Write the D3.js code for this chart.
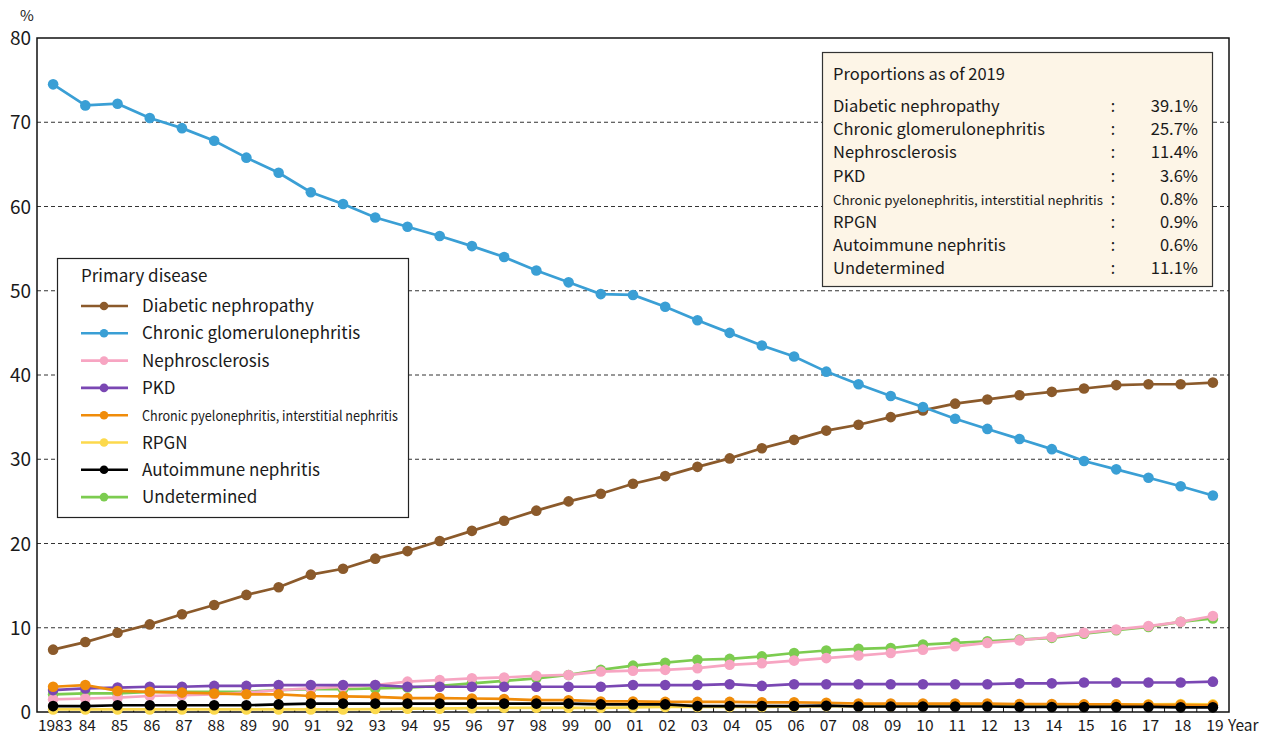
<!DOCTYPE html>
<html><head><meta charset="utf-8">
<script src="https://cdn.jsdelivr.net/npm/d3@7"></script>
<style>
body{margin:0;background:#fff;}
text{font-family:"Noto Sans CJK JP","Noto Sans",sans-serif;fill:#1a1a1a;}
</style></head>
<body><svg id="c" width="1266" height="736"></svg>
<script>
const years = [1983,1984,1985,1986,1987,1988,1989,1990,1991,1992,1993,1994,1995,1996,1997,1998,1999,2000,2001,2002,2003,2004,2005,2006,2007,2008,2009,2010,2011,2012,2013,2014,2015,2016,2017,2018,2019];
const xLabels = ["1983","84","85","86","87","88","89","90","91","92","93","94","95","96","97","98","99","00","01","02","03","04","05","06","07","08","09","10","11","12","13","14","15","16","17","18","19"];
const yTicks = [0,10,20,30,40,50,60,70,80];

const diabetic = [7.4,8.3,9.4,10.4,11.6,12.7,13.9,14.8,16.3,17.0,18.2,19.1,20.3,21.5,22.7,23.9,25.0,25.9,27.1,28.0,29.1,30.1,31.3,32.3,33.4,34.1,35.0,35.8,36.6,37.1,37.6,38.0,38.4,38.8,38.9,38.9,39.1];
const glomerulo = [74.5,72.0,72.2,70.5,69.3,67.8,65.8,64.0,61.7,60.3,58.7,57.6,56.5,55.3,54.0,52.4,51.0,49.6,49.5,48.1,46.5,45.0,43.5,42.2,40.4,38.9,37.5,36.2,34.8,33.6,32.4,31.2,29.8,28.8,27.8,26.8,25.7];
const nephrosclerosis = [1.5,1.6,1.7,1.9,2.0,2.1,2.3,2.6,2.8,3.0,3.2,3.6,3.8,4.0,4.1,4.3,4.4,4.8,4.9,5.0,5.2,5.6,5.8,6.1,6.4,6.7,7.0,7.4,7.8,8.2,8.5,8.9,9.4,9.8,10.2,10.7,11.4];
const pkd = [2.6,2.8,2.9,3.0,3.0,3.1,3.1,3.2,3.2,3.2,3.2,3.0,3.0,3.0,3.0,3.0,3.0,3.0,3.2,3.2,3.2,3.3,3.1,3.3,3.3,3.3,3.3,3.3,3.3,3.3,3.4,3.4,3.5,3.5,3.5,3.5,3.6];
const pyelo = [3.0,3.2,2.5,2.4,2.3,2.2,2.1,2.1,1.9,1.85,1.8,1.65,1.65,1.6,1.55,1.4,1.4,1.25,1.25,1.2,1.2,1.2,1.15,1.15,1.1,1.0,1.0,1.0,1.0,1.0,0.95,0.95,0.9,0.9,0.85,0.85,0.8];
const rpgn = [0.3,0.3,0.3,0.3,0.3,0.3,0.3,0.3,0.3,0.3,0.35,0.4,0.4,0.45,0.5,0.5,0.5,0.5,0.55,0.6,0.6,0.6,0.6,0.65,0.7,0.7,0.7,0.75,0.8,0.8,0.8,0.8,0.85,0.9,0.9,0.95,0.9];
const autoimmune = [0.7,0.7,0.8,0.8,0.8,0.8,0.8,0.9,1.0,1.0,1.0,1.0,1.0,1.0,1.0,1.0,1.0,0.9,0.9,0.9,0.7,0.7,0.7,0.7,0.75,0.65,0.65,0.65,0.65,0.65,0.6,0.6,0.6,0.6,0.6,0.55,0.55];
const undetermined = [2.1,2.2,2.2,2.4,2.4,2.4,2.4,2.6,2.7,2.7,2.8,2.9,3.1,3.4,3.7,4.0,4.4,5.0,5.5,5.85,6.2,6.3,6.6,7.0,7.3,7.5,7.6,8.0,8.2,8.4,8.6,8.8,9.3,9.7,10.1,10.7,11.1];

const seriesNames = ["Diabetic nephropathy","Chronic glomerulonephritis","Nephrosclerosis","PKD","Chronic pyelonephritis, interstitial nephritis","RPGN","Autoimmune nephritis","Undetermined"];
const seriesValues = [diabetic, glomerulo, nephrosclerosis, pkd, pyelo, rpgn, autoimmune, undetermined];
const seriesColors = ["#8b5a2b","#3a9fd5","#f7a5c2","#7a47b3","#f08c0a","#fcd94c","#000000","#7ccc50"];
const drawOrder = [7,2,3,5,4,6,0,1];
const proportions2019 = ["39.1%","25.7%","11.4%","3.6%","0.8%","0.9%","0.6%","11.1%"];

const svg = d3.select("#c");
const L=37, R=1229, T=38, B=712;
const x = d3.scalePoint().domain(years).range([L,R]).padding(0.5);
const y = d3.scaleLinear().domain([0,80]).range([B,T]);
const step = x.step();

// gridlines
svg.append("g").selectAll("line").data(yTicks.filter(t=>t>0&&t<80)).join("line")
  .attr("x1",L).attr("x2",R).attr("y1",d=>y(d)).attr("y2",d=>y(d))
  .attr("stroke","#333").attr("stroke-width",1).attr("stroke-dasharray","4,3");

// frame
svg.append("rect").attr("x",L).attr("y",T).attr("width",R-L).attr("height",B-T)
  .attr("fill","none").attr("stroke","#111").attr("stroke-width",1.5);

// x ticks (boundaries, inward)
const bounds = years.slice(1).map(yr=>x(yr)-step/2);
svg.append("g").selectAll("line").data(bounds).join("line")
  .attr("x1",d=>d).attr("x2",d=>d).attr("y1",B).attr("y2",B-4)
  .attr("stroke","#111").attr("stroke-width",1);

// x labels
svg.append("g").selectAll("text").data(years).join("text")
  .attr("x",d=>x(d)+2).attr("y",731).attr("text-anchor","middle")
  .attr("font-size",15.5).text((d,i)=>xLabels[i]);
svg.append("text").attr("x",1228).attr("y",731).attr("font-size",15.5).text("Year");

// y labels
svg.append("g").selectAll("text").data(yTicks).join("text")
  .attr("x",31).attr("y",d=>y(d)+7).attr("text-anchor","end")
  .attr("font-size",19).text(d=>d);
svg.append("text").attr("x",20).attr("y",21).attr("font-size",15).text("%");

// series
const line = d3.line().x((d,i)=>x(years[i])).y(d=>y(d));
drawOrder.forEach(k=>{
  const g = svg.append("g");
  g.append("path").datum(seriesValues[k]).attr("d",line)
    .attr("fill","none").attr("stroke",seriesColors[k]).attr("stroke-width",2.7);
  g.selectAll("circle").data(seriesValues[k]).join("circle")
    .attr("cx",(d,i)=>x(years[i])).attr("cy",d=>y(d)).attr("r",5.3)
    .attr("fill",seriesColors[k]);
});

// legend
const lg = svg.append("g");
lg.append("rect").attr("x",57.5).attr("y",258.5).attr("width",351).attr("height",259)
  .attr("fill","#fff").attr("stroke","#222").attr("stroke-width",1.2);
lg.append("text").attr("x",81).attr("y",282).attr("font-size",17).text("Primary disease");
seriesNames.forEach((n,i)=>{
  const cy = 306 + i*27.3;
  lg.append("line").attr("x1",81).attr("x2",128).attr("y1",cy).attr("y2",cy)
    .attr("stroke",seriesColors[i]).attr("stroke-width",2.6);
  lg.append("circle").attr("cx",104).attr("cy",cy).attr("r",4.3).attr("fill",seriesColors[i]);
  const t = lg.append("text").attr("x",142).attr("y",cy+6).attr("font-size",i===4?14:17).text(n);
  if(i===4) t.attr("textLength",256).attr("lengthAdjust","spacingAndGlyphs");
});

// proportions box
const pb = svg.append("g");
pb.append("rect").attr("x",822.5).attr("y",52.5).attr("width",390).attr("height",234)
  .attr("fill","#fdf5e7").attr("stroke","#333").attr("stroke-width",1.2);
pb.append("text").attr("x",833).attr("y",80).attr("font-size",16.5).text("Proportions as of 2019");
seriesNames.forEach((n,i)=>{
  const by = 112 + i*23.2;
  const t = pb.append("text").attr("x",833).attr("y",by).attr("font-size",i===4?13:16.5).text(n);
  if(i===4) t.attr("textLength",270).attr("lengthAdjust","spacingAndGlyphs");
  pb.append("text").attr("x",1113).attr("y",by).attr("text-anchor","middle").attr("font-size",16).text(":");
  pb.append("text").attr("x",1198).attr("y",by).attr("text-anchor","end").attr("font-size",16.5).text(proportions2019[i]);
});
</script></body></html>
